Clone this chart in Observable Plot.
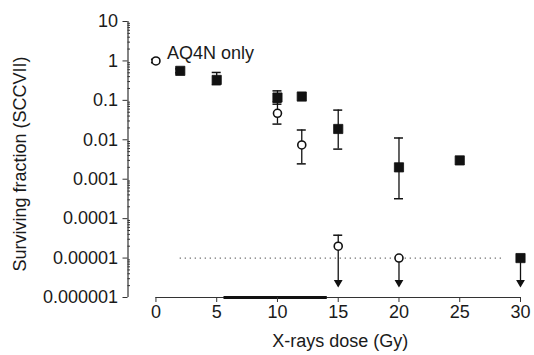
<!DOCTYPE html>
<html>
<head>
<meta charset="utf-8">
<script src="https://cdn.jsdelivr.net/npm/d3@7"></script>
<script src="https://cdn.jsdelivr.net/npm/@observablehq/plot@0.6"></script>
<style>
  html, body { margin: 0; padding: 0; background: #fff; }
  #chart svg { display: block; }
</style>
</head>
<body>
<div id="chart"></div>
<script>
// ---- Data ----
// AQ4N only (open circles)
const aq4nDose = [0, 10, 12, 15, 20];
const aq4nSF   = [1, 0.047, 0.0074, 0.00002, 0.00001];
const aq4nLo   = [0.9, 0.025, 0.00245, null, null];
const aq4nHi   = [1.1, 0.09, 0.0177, 0.000038, null];
const aq4nArrow = [false, false, false, true, true];

// Combination (filled squares)
const comboDose = [2, 5, 10, 12, 15, 20, 25, 30];
const comboSF   = [0.56, 0.33, 0.118, 0.125, 0.0188, 0.002, 0.003, 0.00001];
const comboLo   = [0.5, 0.25, 0.08, null, 0.0058, 0.00032, null, null];
const comboHi   = [0.63, 0.51, 0.174, null, 0.0566, 0.0111, null, null];
const comboArrow = [false, false, false, false, false, false, false, true];

const arrowTo = 2.4e-6;          // where "below detection" arrows end
const detectionLimit = 0.00001;  // dotted line
const detectionFrom = 2, detectionTo = 28.6;
const axisHighlight = [5.6, 14.1];

const xTicks = [0, 5, 10, 15, 20, 25, 30];
const yTicks = [10, 1, 0.1, 0.01, 0.001, 0.0001, 0.00001, 0.000001];
const yTickLabels = ["10", "1", "0.1", "0.01", "0.001", "0.0001", "0.00001", "0.000001"];
const seriesLabel = "AQ4N only";
const xLabel = "X-rays dose (Gy)";
const yLabel = "Surviving fraction (SCCVII)";

// ---- Build tables ----
const build = (dose, sf, lo, hi, arrow) =>
  dose.map((x, i) => ({x, y: sf[i], lo: lo[i], hi: hi[i], arrow: arrow[i]}));
const aq4n = build(aq4nDose, aq4nSF, aq4nLo, aq4nHi, aq4nArrow);
const combo = build(comboDose, comboSF, comboLo, comboHi, comboArrow);
const all = [...combo, ...aq4n];
const errs = all.filter(d => d.lo != null || d.hi != null)
  .map(d => ({x: d.x, lo: d.lo ?? d.y, hi: d.hi ?? d.y, hasLo: d.lo != null, hasHi: d.hi != null}));
const arrows = all.filter(d => d.arrow);

const minorTicks = [];
for (let e = -6; e < 1; e++) for (let k = 2; k <= 9; k++) minorTicks.push(k * Math.pow(10, e));

const xDomain = [-2.3, 30];
const capHalf = 0.37;
const ink = "#111";

const chart = Plot.plot({
  width: 534,
  height: 355,
  marginLeft: 127.5,
  marginRight: 14,
  marginTop: 21,
  marginBottom: 58,
  x: {domain: xDomain, axis: null},
  y: {type: "log", domain: [1e-6, 10], axis: null},
  style: {fontFamily: "'Liberation Sans', Arial, sans-serif", fontSize: "18px", color: "#1a1a1a", background: "#fff"},
  marks: [
    // axes lines
    Plot.ruleX([xDomain[0]], {stroke: "#333", strokeWidth: 1.2}),
    Plot.ruleY([1e-6], {x1: 0, x2: 30, stroke: "#333", strokeWidth: 1.2}),
    Plot.ruleY([1e-6], {x1: axisHighlight[0], x2: axisHighlight[1], stroke: "#111", strokeWidth: 3}),
    Plot.ruleY(minorTicks, {stroke: "#333", insetRight: 390}),
    Plot.axisY({ticks: yTicks, tickFormat: d => yTickLabels[yTicks.findIndex(t => Math.abs(Math.log10(t) - Math.log10(d)) < 1e-6)],
      tickSize: 5, tickPadding: 5, label: null, fontSize: 18, stroke: "#333"}),
    Plot.axisX({ticks: xTicks, tickSize: 5, tickPadding: 3, label: null, fontSize: 18, stroke: "#333"}),
    // axis titles
    Plot.text([yLabel], {frameAnchor: "left", textAnchor: "middle", dx: -107.5, dy: 4.5, rotate: -90, fontSize: 18, fill: "#1a1a1a"}),
    Plot.text([xLabel], {frameAnchor: "bottom", dx: 16, dy: 49, fontSize: 18, fill: "#1a1a1a"}),
    // detection limit dotted line
    Plot.ruleY([detectionLimit], {x1: detectionFrom, x2: detectionTo, stroke: "#444", strokeWidth: 1.3, strokeDasharray: "1,4"}),
    // error bars
    Plot.ruleX(errs, {x: "x", y1: "lo", y2: "hi", stroke: ink, strokeWidth: 1.3}),
    Plot.ruleY(errs.filter(d => d.hasHi), {y: "hi", x1: d => d.x - capHalf, x2: d => d.x + capHalf, stroke: ink, strokeWidth: 1.5}),
    Plot.ruleY(errs.filter(d => d.hasLo), {y: "lo", x1: d => d.x - capHalf, x2: d => d.x + capHalf, stroke: ink, strokeWidth: 1.5}),
    // below-detection arrows
    Plot.ruleX(arrows, {x: "x", y1: "y", y2: () => arrowTo, stroke: ink, strokeWidth: 1.3}),
    Plot.dot(arrows, {x: "x", y: () => arrowTo, symbol: "triangle", rotate: 180, r: 2.3, fill: ink, stroke: ink}),
    // combination: filled squares
    Plot.dot(combo, {x: "x", y: "y", symbol: "square", r: 5.2, fill: ink, stroke: ink, strokeWidth: 0.8}),
    // AQ4N only: open circles
    Plot.dot(aq4n, {x: "x", y: "y", symbol: "circle", r: 4, fill: "#fff", stroke: ink, strokeWidth: 1.6}),
    // series label
    Plot.text([seriesLabel], {x: () => 0.9, y: () => 1.6, textAnchor: "start", fontSize: 18, fill: "#1a1a1a"})
  ]
});
document.getElementById("chart").append(chart);
</script>
</body>
</html>
